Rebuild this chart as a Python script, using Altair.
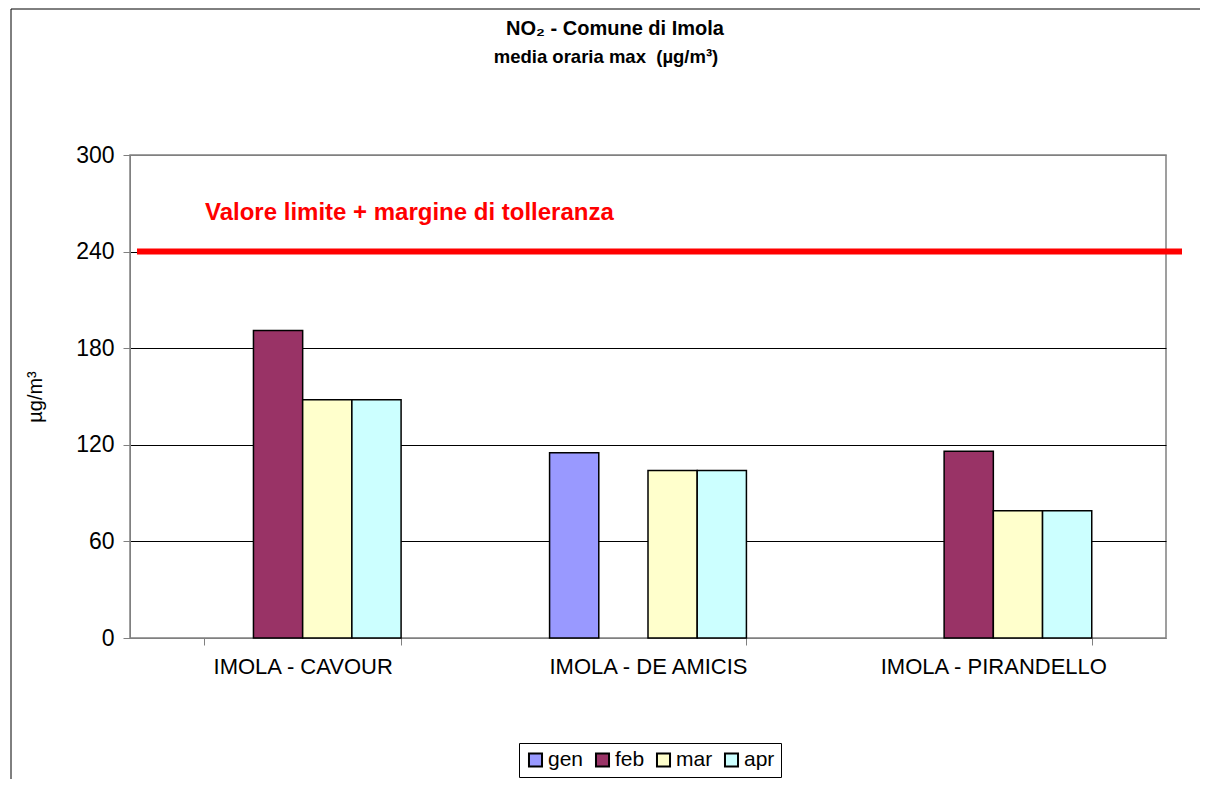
import altair as alt
import pandas as pd

stations = ["IMOLA - CAVOUR", "IMOLA - DE AMICIS", "IMOLA - PIRANDELLO"]
months = ["gen", "feb", "mar", "apr"]
month_colors = ["#9999FF", "#993366", "#FFFFCC", "#CCFFFF"]
gen = [None, 115, None]
feb = [191, None, 116]
mar = [148, 104, 79]
apr = [148, 104, 79]
limit_value = [240]
limit_label = ["Valore limite + margine di tolleranza"]
limit_label_y = [264]
y_ticks = [0, 60, 120, 180, 240, 300]
title_lines = ["NO₂ - Comune di Imola", "media oraria max\u00a0\u00a0(µg/m³)"]

rows = []
for i, s in enumerate(stations):
    for m, series in zip(months, [gen, feb, mar, apr]):
        if series[i] is not None:
            rows.append({"station": s, "month": m, "value": series[i]})
df = pd.DataFrame(rows)

FONT = "Liberation Sans"

bars = alt.Chart(df).mark_bar(stroke="black", strokeWidth=1.5).encode(
    x=alt.X("station:N", sort=stations,
            scale=alt.Scale(paddingInner=0.43, paddingOuter=0.215),
            axis=alt.Axis(title=None, labelAngle=0, labelFontSize=22, labelColor="black",
                          labelPadding=11, labelLimit=400, tickSize=7, tickColor="#808080",
                          tickBand="extent", domainColor="#808080", grid=False)),
    xOffset=alt.XOffset("month:N", sort=months,
                        scale=alt.Scale(domain=months, paddingInner=0, paddingOuter=0)),
    y=alt.Y("value:Q", scale=alt.Scale(domain=[0, 300], nice=False),
            axis=alt.Axis(title="µg/m³", titleFontSize=20, titleFontWeight="normal",
                          titleColor="black", titlePadding=30, values=y_ticks,
                          labelFontSize=23, labelColor="black", labelPadding=9,
                          tickSize=7, tickColor="#808080", domainColor="#808080",
                          grid=True,
                          gridColor=alt.condition("datum.value == 0 || datum.value == 300",
                                                  alt.value("#808080"), alt.value("black")))),
    color=alt.Color("month:N", scale=alt.Scale(domain=months, range=month_colors),
                    legend=alt.Legend(title=None, orient="none", legendX=389, legendY=588,
                                      direction="horizontal",
                                      symbolType="square", symbolSize=170,
                                      symbolStrokeColor="black", symbolStrokeWidth=2,
                                      labelFontSize=21, labelColor="black",
                                      strokeColor="black", padding=6,
                                      columnPadding=7, labelOffset=2)),
)

limit_df = pd.DataFrame({"value": limit_value})
rule = alt.Chart(limit_df).mark_rule(color="red", strokeWidth=6).encode(
    y="value:Q", x=alt.value(7), x2=alt.value(1052)
)

label_df = pd.DataFrame({"value": limit_label_y, "t": limit_label})
label = alt.Chart(label_df).mark_text(align="left", baseline="middle", color="red",
                                       fontSize=24, fontWeight="bold", font=FONT).encode(
    y="value:Q", x=alt.value(75), text="t:N"
)

title_df = pd.DataFrame({"t": title_lines})
title1 = alt.Chart(title_df.iloc[[0]]).mark_text(
    align="center", baseline="alphabetic", fontSize=20, fontWeight="bold",
    color="black", font=FONT).encode(x=alt.value(485), y=alt.value(-120), text="t:N")
title2 = alt.Chart(title_df.iloc[[1]]).mark_text(
    align="center", baseline="alphabetic", fontSize=18.5, fontWeight="bold",
    color="black", font=FONT).encode(x=alt.value(476), y=alt.value(-92), text="t:N")

border = alt.Chart(pd.DataFrame({"a": [0]})).mark_rect(fill=None, stroke="black",
                                                        strokeWidth=1).encode(
    x=alt.value(-119), x2=alt.value(1075), y=alt.value(-146), y2=alt.value(700)
)

chart = alt.layer(border, bars, rule, label, title1, title2).properties(
    width=1036, height=483,
    autosize=alt.AutoSizeParams(type="none"),
    padding={"left": 122, "top": 147, "right": 34, "bottom": 141},
).configure(font=FONT).configure_view(stroke="#808080", strokeWidth=1.5)

chart.save("out.html", embed_options={"renderer": "svg", "actions": False})
